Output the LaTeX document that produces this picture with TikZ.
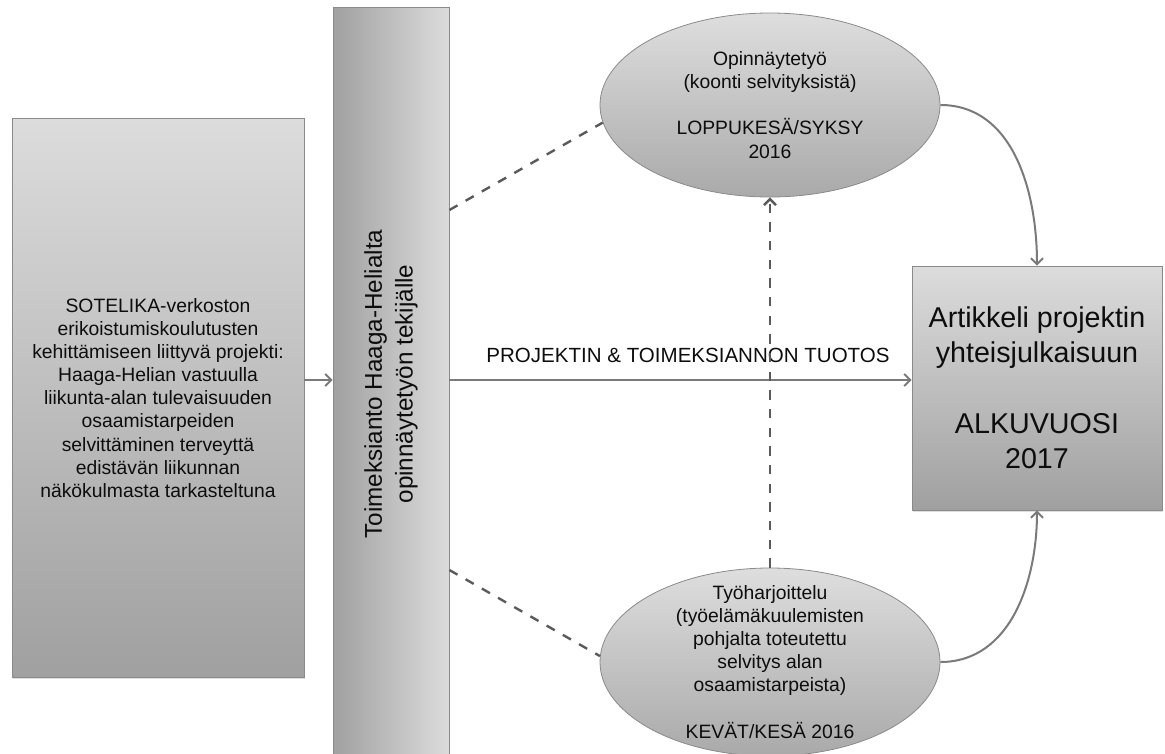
\documentclass[tikz,border=0pt]{standalone}
\usepackage{fontspec}
\setmainfont{Liberation Sans}
\usepackage{tikz}
\usetikzlibrary{positioning}
\usetikzlibrary{shapes.geometric}
\usetikzlibrary{arrows.meta}
\usetikzlibrary{shadows}

\definecolor{shadetop}{HTML}{DCDCDC}
\definecolor{shadebot}{HTML}{A0A0A0}
\definecolor{rimgray}{HTML}{8A8A8A}
\definecolor{arrgray}{HTML}{7A7A7A}
\definecolor{dashgray}{HTML}{5A5A5A}

\begin{document}
\begin{tikzpicture}[x=0.75pt,y=0.75pt,
    box/.style={rectangle, draw=rimgray, line width=0.6pt, top color=shadetop,
      bottom color=shadebot, align=center, inner sep=0pt, text=black!95,
      drop shadow={opacity=0.25, shadow xshift=0.8pt, shadow yshift=-1.2pt}},
    blob/.style={ellipse, draw=rimgray, line width=0.6pt, top color=shadetop!95,
      bottom color=shadebot!90, align=center, inner sep=0pt, text=black!95,
      font=\fontsize{14.5}{17.3}\selectfont},
    arr/.style={draw=arrgray, line width=1.5pt, -{Straight Barb[length=4.5pt,width=9pt]}},
    dashlink/.style={draw=dashgray, line width=1.8pt, dash pattern=on 7pt off 7pt}]
  \useasboundingbox (0,0) rectangle (1165,-754);

  % boxes
  \node[box, minimum width=219pt, minimum height=419pt,
    font=\fontsize{14.5}{17.3}\selectfont] (src) at (158,-398) {SOTELIKA-verkoston\\
    erikoistumiskoulutusten\\ kehittämiseen liittyvä projekti:\\
    Haaga-Helian vastuulla\\ liikunta-alan tulevaisuuden\\ osaamistarpeiden\\
    selvittäminen terveyttä\\ edistävän liikunnan\\ näkökulmasta tarkasteltuna};
  \node[box, rotate=90, minimum width=565pt, minimum height=87pt,
    left color=shadebot, right color=shadetop,
    font=\fontsize{18.2}{23}\selectfont] (bar) at (391,-384)
    {Toimeksianto Haaga-Helialta\\ opinnäytetyön tekijälle};
  \node[box, minimum width=187.5pt, minimum height=183pt,
    font=\fontsize{21.5}{26.5}\selectfont] (art) at (1037,-388)
    {Artikkeli projektin\\ yhteisjulkaisuun\\[26.5pt] ALKUVUOSI\\ 2017};

  % ellipses
  \node[blob, minimum width=255pt, minimum height=138pt] (top) at (770,-105)
    {Opinnäytetyö\\ (koonti selvityksistä)\\[17.3pt] LOPPUKESÄ/SYKSY\\ 2016};
  \node[blob, minimum width=255pt, minimum height=141pt, inner ysep=-14pt] (bot) at (770,-662)
    {Työharjoittelu\\ (työelämäkuulemisten\\ pohjalta toteutettu\\ selvitys alan\\
    osaamistarpeista)\\[17.3pt] KEVÄT/KESÄ 2016};

  % connectors
  \draw[arr] (src.east |- 0,-380) -- (bar.north |- 0,-380);
  \draw[arr] (bar.south |- 0,-380) -- (art.west |- 0,-380);
  \node[font=\fontsize{15.4}{18}\selectfont, text=black!95] (out) at (688,-355)
    {PROJEKTIN \& TOIMEKSIANNON TUOTOS};
  \draw[dashlink] (bar.south |- 0,-210) -- (top.186);
  \draw[dashlink] (bar.south |- 0,-570) -- (bot.178);
  \draw[dashlink, -{Straight Barb[length=4.5pt,width=9pt]}] (bot.north) -- (top.south);
  \draw[arr] (top.east) to[out=0, in=90] (art.north);
  \draw[arr] (bot.east) to[out=0, in=-90] (art.south);
\end{tikzpicture}
\end{document}
